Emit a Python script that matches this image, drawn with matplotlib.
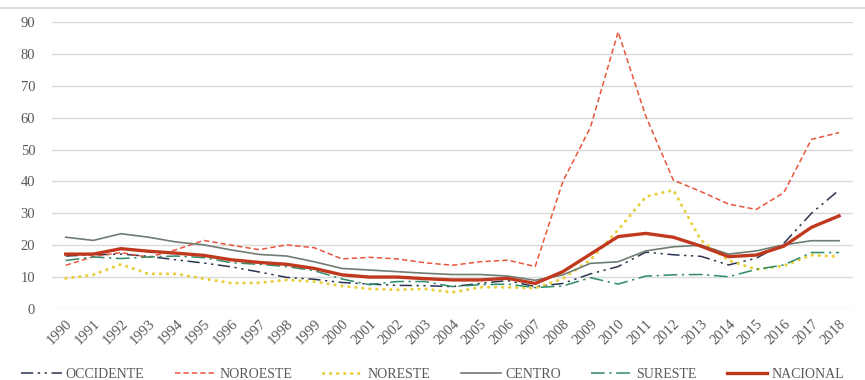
import matplotlib.pyplot as plt
from matplotlib.lines import Line2D

plt.rcParams['font.family'] = ['Liberation Serif', 'DejaVu Serif']

years = [str(y) for y in range(1990, 2019)]

occidente = [16.6, 17.0, 17.2, 16.5, 15.4, 14.4, 13.2, 11.6, 9.9, 9.3,
             8.3, 7.8, 7.4, 7.3, 7.0, 8.0, 8.9, 7.0, 8.0, 11.0,
             13.3, 17.8, 17.0, 16.5, 13.8, 15.9, 20.6, 30.0, 37.3]
noroeste = [13.7, 16.4, 17.7, 16.2, 18.6, 21.5, 20.0, 18.6, 20.1, 19.2,
            15.7, 16.2, 15.7, 14.5, 13.7, 14.8, 15.3, 13.3, 40.0, 57.0,
            86.9, 60.5, 40.4, 36.8, 32.9, 31.2, 36.5, 53.2, 55.3]
noreste = [9.6, 10.7, 14.0, 11.0, 11.0, 9.5, 8.1, 8.2, 9.1, 8.6,
           7.2, 6.3, 6.0, 6.3, 5.2, 6.8, 6.8, 6.5, 9.5, 15.4,
           24.8, 35.2, 37.3, 21.5, 15.2, 12.4, 13.5, 16.9, 16.4]
centro = [22.5, 21.5, 23.6, 22.5, 21.0, 20.1, 18.5, 17.1, 16.6, 14.8,
          12.7, 12.2, 11.7, 11.2, 10.8, 10.8, 10.3, 9.0, 10.7, 14.3,
          14.8, 18.2, 19.5, 20.0, 17.2, 18.2, 20.1, 21.4, 21.4]
sureste = [15.2, 16.3, 15.8, 16.3, 16.6, 16.1, 14.5, 14.0, 13.3, 12.0,
           9.4, 7.6, 8.6, 8.6, 7.0, 7.6, 7.8, 6.7, 7.2, 9.8,
           7.8, 10.3, 10.7, 10.8, 10.1, 12.4, 13.8, 17.7, 17.7]
nacional = [17.2, 17.2, 18.9, 18.1, 17.5, 16.8, 15.4, 14.6, 14.0, 12.7,
            10.7, 10.0, 10.0, 9.5, 9.1, 9.1, 9.6, 8.0, 11.7, 17.2,
            22.7, 23.7, 22.5, 19.7, 16.4, 16.9, 19.7, 25.6, 29.2]

series = [
    ('OCCIDENTE', occidente, dict(color='#2b3450', lw=1.1, ls=(0, (8, 3, 1.5, 3, 1.5, 3)))),
    ('NOROESTE', noroeste, dict(color='#e8563a', lw=1.1, ls=(0, (3.5, 2)))),
    ('NORESTE', noreste, dict(color='#e9cf3c', lw=2.2, ls=(0, (0.1, 2.2)), dash_capstyle='round')),
    ('CENTRO', centro, dict(color='#6f7c72', lw=1.2, ls='-')),
    ('SURESTE', sureste, dict(color='#2e8a68', lw=1.1, ls=(0, (9, 3, 1.5, 3)))),
    ('NACIONAL', nacional, dict(color='#c0391e', lw=2.4, ls='-')),
]

fig = plt.figure(figsize=(8.65, 3.8), dpi=100)
ax = fig.add_axes([0.060, 0.187, 0.926, 0.755])

x = list(range(len(years)))
for name, vals, style in series:
    ax.plot(x, vals, label=name, **style)

ax.set_xlim(-0.5, len(years) - 0.5)
ax.set_ylim(0, 90)
ax.set_yticks(range(0, 91, 10))
ax.set_xticks(x)
ax.set_xticklabels(years, rotation=45, ha='right', rotation_mode='anchor')
ax.grid(axis='y', color='#d9d9d9', lw=1)
ax.set_axisbelow(True)
for s in ax.spines.values():
    s.set_visible(False)
ax.tick_params(axis='both', length=0, labelsize=10.5, colors='#595959')
ax.tick_params(axis='y', pad=12)
ax.tick_params(axis='x', pad=6)

# thin rule across the top of the figure
fig.add_artist(Line2D([0, 1], [0.979, 0.979], color='#d9d9d9', lw=1.2))

fig.legend(loc='lower center', bbox_to_anchor=(0.5, -0.035), ncol=6,
           frameon=False, fontsize=10, handlelength=2.9, handletextpad=0.3,
           columnspacing=2.2, labelcolor='#595959')

fig.savefig('out.png', dpi=100)
